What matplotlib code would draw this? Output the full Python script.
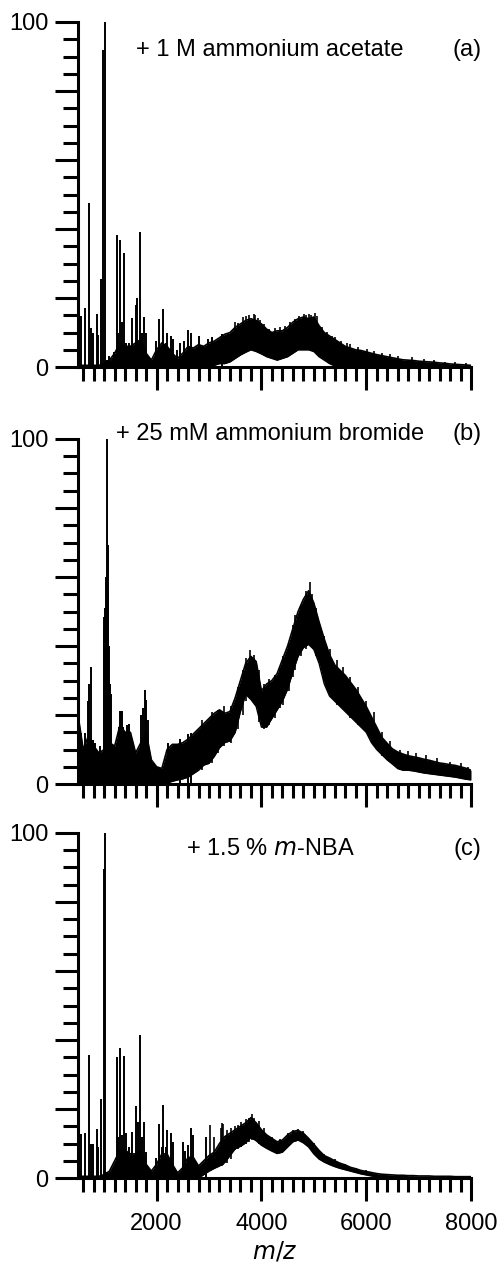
import matplotlib.pyplot as plt
from matplotlib.ticker import MultipleLocator, FixedLocator, FuncFormatter

plt.rcParams['font.family'] = ['Liberation Sans', 'DejaVu Sans']

# m/z grid for the broad (noisy) part of each spectrum
mz_grid = list(range(500, 8100, 100))

# (a) + 1 M ammonium acetate
a_upper = [0.5, 0.5, 0.5, 0.5, 0.5, 1, 2, 4, 7, 6, 6, 7, 8, 4, 2, 5, 7, 6, 4, 2.5,
           4, 6, 5.5, 6.5, 6, 7, 7.5, 8.5, 9.5, 10, 11.5, 12.5, 13.5, 14, 13.5, 12.5, 11, 10, 10.5, 10.5,
           11.5, 13, 14, 14.5, 14, 14.5, 12, 10, 9, 8, 7, 6, 5.5, 5, 4.8, 4.4, 4, 3.6, 3.3, 3,
           2.7, 2.4, 2.1, 2, 1.9, 1.7, 1.6, 1.5, 1.4, 1.2, 1.1, 0.9, 0.8, 0.7, 0.6, 0.5]
a_lower = [0, 0, 0, 0, 0, 0, 0, 0, 0, 0, 0, 0, 0, 0, 0, 0, 0, 0, 0, 0,
           0, 0, 0, 0, 0, 0, 0.5, 1, 1, 1.5, 2.5, 3.5, 4.3, 5, 4.5, 3.8, 3, 2.5, 2, 2.5,
           3, 4, 5, 5, 5, 4.5, 3, 2, 1, 0.3, 0, 0, 0, 0, 0, 0, 0, 0, 0, 0,
           0, 0, 0, 0, 0, 0, 0, 0, 0, 0, 0, 0, 0, 0, 0, 0]
a_peak_mz = [551, 634, 710, 740, 787, 857, 889, 933, 984, 1012, 1060, 1092, 1188, 1239, 1260,
             1309, 1335, 1379, 1410, 1470, 1532, 1608, 1625, 1691, 1720, 1761, 1805, 1991, 2054,
             2095, 2131, 2170, 2207, 2271, 2315, 2392, 2450, 2526, 2602, 2665, 2806, 2984, 3050,
             3252]
a_peak_h = [14.8, 17, 47.5, 11.2, 9.8, 15.4, 9.3, 25.4, 92, 100, 2, 3.2, 4.4, 38.3, 10,
            36.8, 13, 33, 7, 7, 14.1, 18, 20, 39.2, 9.8, 14.4, 9.8, 7.6, 13.8,
            6, 16.9, 7, 9.8, 9, 8, 5, 7, 7.6, 10.7, 10, 9, 8, 8.6,
            9.6]
# short noise spikes on top of the broad band
a_spike_mz = [3500, 3550, 3647, 3700, 3760, 3851, 3880, 3930, 3978, 4050, 4150, 4250, 4350, 4450,
              4550, 4650, 4720, 4806, 4850, 4902, 4950, 5020, 5061, 5150, 5252, 5340, 5411, 5520,
              5630, 5700, 5850, 6017, 6150, 6300, 6450, 6600, 6877, 7100, 7300, 7500, 7700, 7900]
a_spike_lo = [5, 5, 6, 6, 7, 7, 7, 7, 6, 5, 5, 5, 5, 5,
              6, 7, 7, 8, 8, 8, 8, 7, 7, 5, 4, 3, 2, 2,
              2, 2, 1.5, 1.2, 1, 1, 0.8, 0.6, 0.5, 0.3, 0.3, 0.2, 0.2, 0.2]
a_spike_hi = [13, 12.8, 14.6, 14.8, 15, 15.4, 15, 14.2, 13.6, 12.4, 11, 11.2, 11.5, 12,
              13.2, 14, 14.8, 15.4, 15, 15.5, 15.2, 15.6, 14.8, 11.5, 10.2, 9, 8.6, 7.6,
              7, 6.8, 5.8, 5.1, 4.6, 4, 3.8, 3.2, 2.8, 2.2, 2, 1.6, 1.5, 1.2]

# (b) + 25 mM ammonium bromide
b_upper = [20, 10, 14, 11, 9, 10, 12, 11, 17, 15, 15, 9, 12, 15, 7, 5, 4.5, 10, 11.5, 11.5,
           12, 13, 14.5, 16, 17.5, 19, 20.5, 21.5, 20.5, 21, 25, 30, 35, 37, 35.5, 27, 29, 30, 32, 36,
           40, 45, 50, 53.5, 56, 52.5, 47, 42, 37.5, 34.5, 33, 31.5, 29.5, 27.5, 25, 22.5, 19.5, 16.5, 13.5, 11.8,
           10.2, 9.3, 8.7, 8.2, 7.9, 7.6, 7.2, 6.9, 6.5, 6.1, 5.9, 5.6, 5.4, 5, 4.6, 4]
b_lower = [0, 0, 0, 0, 0, 0, 0, 0, 0, 0, 0, 0, 0, 0, 0, 0, 0, 0.3, 0.8, 1.2,
           1.5, 2, 3, 4, 5.5, 6, 8, 10.5, 12, 12.5, 15, 21, 26, 24.5, 22.5, 16.5, 16.5, 19, 21.5, 24,
           27.5, 32.5, 37, 39.5, 40.5, 39, 35, 29, 25.5, 24, 22.5, 21, 19.5, 18, 16.5, 15, 12, 10, 8.5, 7,
           5.8, 4.5, 4, 4, 3.8, 3.5, 3.2, 3, 2.8, 2.6, 2.4, 2.2, 2, 1.7, 1.4, 1.2]
b_peak_mz = [505, 530, 564, 600, 627, 650, 700, 710, 755, 785, 820, 914, 990, 1000, 1016,
             1030, 1048, 1063, 1078, 1095, 1110, 1125, 1277, 1300, 1315, 1340, 1360, 1443, 1480,
             1710, 1740, 1774, 1800, 1840, 2220, 2450, 2600, 2666]
b_peak_h = [21.4, 14, 14.7, 9, 14.9, 8, 24, 29, 33.8, 12.8, 11.8, 11, 45, 48.5, 51,
            60, 100, 55, 69.3, 40, 29, 26, 16.6, 21.3, 21.3, 21.3, 16.6, 17.1, 17.4,
            20, 22, 27.2, 24.3, 18.5, 11.8, 13, 14.5, 14.7]
b_spike_mz = [2857, 3048, 3175, 3290, 3420, 3560, 3640, 3700, 3780, 3850, 3960, 4050, 4150, 4250,
              4350, 4420, 4520, 4600, 4650, 4750, 4850, 4921, 4960, 5050, 5200, 5300, 5450, 5550,
              5700, 5850, 6000, 6150, 6300, 6450, 6650, 6800, 6950, 7150, 7350, 7600, 7800, 7950]
b_spike_lo = [4, 6, 9, 11, 12, 16, 20, 24, 25, 24, 18, 16, 17, 19,
              22, 23, 27, 31, 33, 37, 39, 40, 40, 37, 30, 26, 23, 22,
              19, 17, 15, 11, 8, 6.5, 4, 4, 3.6, 3, 2.7, 2.2, 1.7, 1.3]
b_spike_hi = [18.5, 21, 21.4, 22.5, 22.5, 28, 33, 36.5, 38.8, 37.5, 33, 29, 30.5, 31.5,
              34, 37, 41, 46, 49, 52, 56, 58.5, 55, 51, 43, 39, 36, 34,
              31, 28, 24, 21, 15, 12.5, 10, 9.5, 9, 8.5, 7.5, 6.5, 6, 5]

# (c) + 1.5 % m-NBA
c_upper = [0.5, 0.5, 0.5, 0.5, 0.5, 1, 2, 5, 8, 8, 7, 7, 8, 4, 2, 4, 7, 7, 4, 1.5,
           3, 6, 6, 3.5, 5, 6.5, 7.5, 10, 12, 13, 14, 15, 16, 17.5, 16, 14, 12.5, 11.5, 10.5, 11,
           12.5, 13.5, 13.8, 13, 11.5, 9.8, 8, 6.5, 5.8, 5, 4.3, 3.8, 3.1, 2.7, 2.2, 1.9, 1.6, 1.3, 1.1, 1,
           0.9, 0.8, 0.8, 0.7, 0.7, 0.6, 0.6, 0.6, 0.5, 0.5, 0.5, 0.5, 0.4, 0.4, 0.4, 0.4]
c_lower = [0, 0, 0, 0, 0, 0, 0, 0, 0, 0, 0, 0, 0, 0, 0, 0, 0, 0, 0, 0,
           0, 0, 0, 0, 1, 2, 2.8, 3.5, 4.5, 6.5, 8.5, 9.2, 10.2, 11.8, 10.8, 9.5, 8.6, 7.8, 7.1, 7.5,
           9, 10.5, 11, 10.2, 9, 7, 5.5, 4.6, 3.9, 3.3, 2.8, 2.4, 2, 1.6, 1.2, 0.9, 0.6, 0.4, 0.2, 0.1,
           0, 0, 0, 0, 0, 0, 0, 0, 0, 0, 0, 0, 0, 0, 0, 0]
c_peak_mz = [551, 627, 710, 740, 787, 857, 889, 933, 995, 1012, 1060, 1092, 1188, 1239, 1270,
             1309, 1345, 1385, 1420, 1470, 1532, 1615, 1645, 1691, 1720, 1761, 1805, 1991, 2054,
             2095, 2131, 2170, 2207, 2271, 2315, 2507, 2540, 2600, 2666, 2700, 2940]
c_peak_h = [12.9, 13.1, 35.6, 9.9, 9.9, 14.1, 9, 22.9, 89.6, 100, 1.8, 1.5, 3.3, 35, 12,
            37.6, 12.5, 35.4, 13, 9, 13.4, 20.9, 16.3, 41.4, 12, 16.3, 7.6, 5.7, 15.6,
            9, 21.2, 9, 13.9, 13, 10.5, 10.5, 7.9, 9.6, 14.4, 12.5, 12]
c_spike_mz = [3016, 3100, 3230, 3252, 3265, 3350, 3420, 3500, 3560, 3620, 3700, 3760, 3819, 3860,
              3950, 4050, 4200, 4350, 4500, 4600, 4700, 4800, 5000, 5200, 5400, 5600, 5800, 6000]
c_spike_lo = [2, 2.8, 3.5, 3.5, 3.8, 4.5, 5.5, 8, 8.5, 9, 10, 10.5, 11, 11,
              10, 9, 7.8, 7.2, 9, 10.5, 11, 10.2, 7, 4.6, 3.3, 2.4, 1.6, 0.9]
c_spike_hi = [15.4, 12, 14.5, 16, 15.8, 14, 14.5, 15.2, 15.5, 16.3, 17, 17.5, 18.5, 17.5,
              16.5, 14.5, 12, 11.3, 13, 14, 14.3, 13.5, 10.3, 7, 5.5, 4.2, 3, 2.2]

labels = ['+ 1 M ammonium acetate', '+ 25 mM ammonium bromide', r'+ 1.5 % $\it{m}$-NBA']
tags = ['(a)', '(b)', '(c)']
label_y = [0.919, 1.014, 0.954]

uppers = [a_upper, b_upper, c_upper]
lowers = [a_lower, b_lower, c_lower]
peak_mz = [a_peak_mz, b_peak_mz, c_peak_mz]
peak_h = [a_peak_h, b_peak_h, c_peak_h]
spike_mz = [a_spike_mz, b_spike_mz, c_spike_mz]
spike_lo = [a_spike_lo, b_spike_lo, c_spike_lo]
spike_hi = [a_spike_hi, b_spike_hi, c_spike_hi]

fig = plt.figure(figsize=(5, 12.64), dpi=100)
bottoms = [0.7096, 0.3797, 0.068]

for i in range(3):
    ax = fig.add_axes([0.156, bottoms[i], 0.786, 0.273])
    ax.fill_between(mz_grid, lowers[i], uppers[i], color='black', lw=0)
    ax.plot(mz_grid, uppers[i], color='black', lw=1.2)
    ax.plot(mz_grid, lowers[i], color='black', lw=1.0)
    ax.vlines(peak_mz[i], 0, peak_h[i], color='black', lw=1.4)
    ax.vlines(spike_mz[i], spike_lo[i], spike_hi[i], color='black', lw=1.2)

    ax.set_xlim(500, 8000)
    ax.set_ylim(0, 100)

    ax.spines['top'].set_visible(False)
    ax.spines['right'].set_visible(False)
    ax.spines['left'].set_linewidth(2.2)
    ax.spines['bottom'].set_linewidth(2.2)

    ax.yaxis.set_major_locator(MultipleLocator(20))
    ax.yaxis.set_minor_locator(MultipleLocator(5))
    ax.yaxis.set_major_formatter(FuncFormatter(lambda v, p: '%d' % v if v in (0, 100) else ''))
    ax.xaxis.set_major_locator(FixedLocator([2000, 4000, 6000, 8000]))
    ax.xaxis.set_minor_locator(FixedLocator(list(range(600, 8001, 200))))

    ax.tick_params(axis='y', which='major', length=16.5, width=2.2, labelsize=17, pad=5)
    ax.tick_params(axis='y', which='minor', length=11, width=2.2)
    ax.tick_params(axis='x', which='major', length=16.5, width=2.2, labelsize=17, pad=9)
    ax.tick_params(axis='x', which='minor', length=10, width=2.2)

    if i < 2:
        ax.set_xticklabels([])
    else:
        ax.set_xlabel('$\\it{m/z}$', fontsize=17, labelpad=3)

    ax.text(0.4885, label_y[i], labels[i], transform=ax.transAxes, fontsize=17,
            ha='center', va='center')
    ax.text(0.991, label_y[i], tags[i], transform=ax.transAxes, fontsize=17,
            ha='center', va='center')

fig.savefig('out.png', dpi=100)
